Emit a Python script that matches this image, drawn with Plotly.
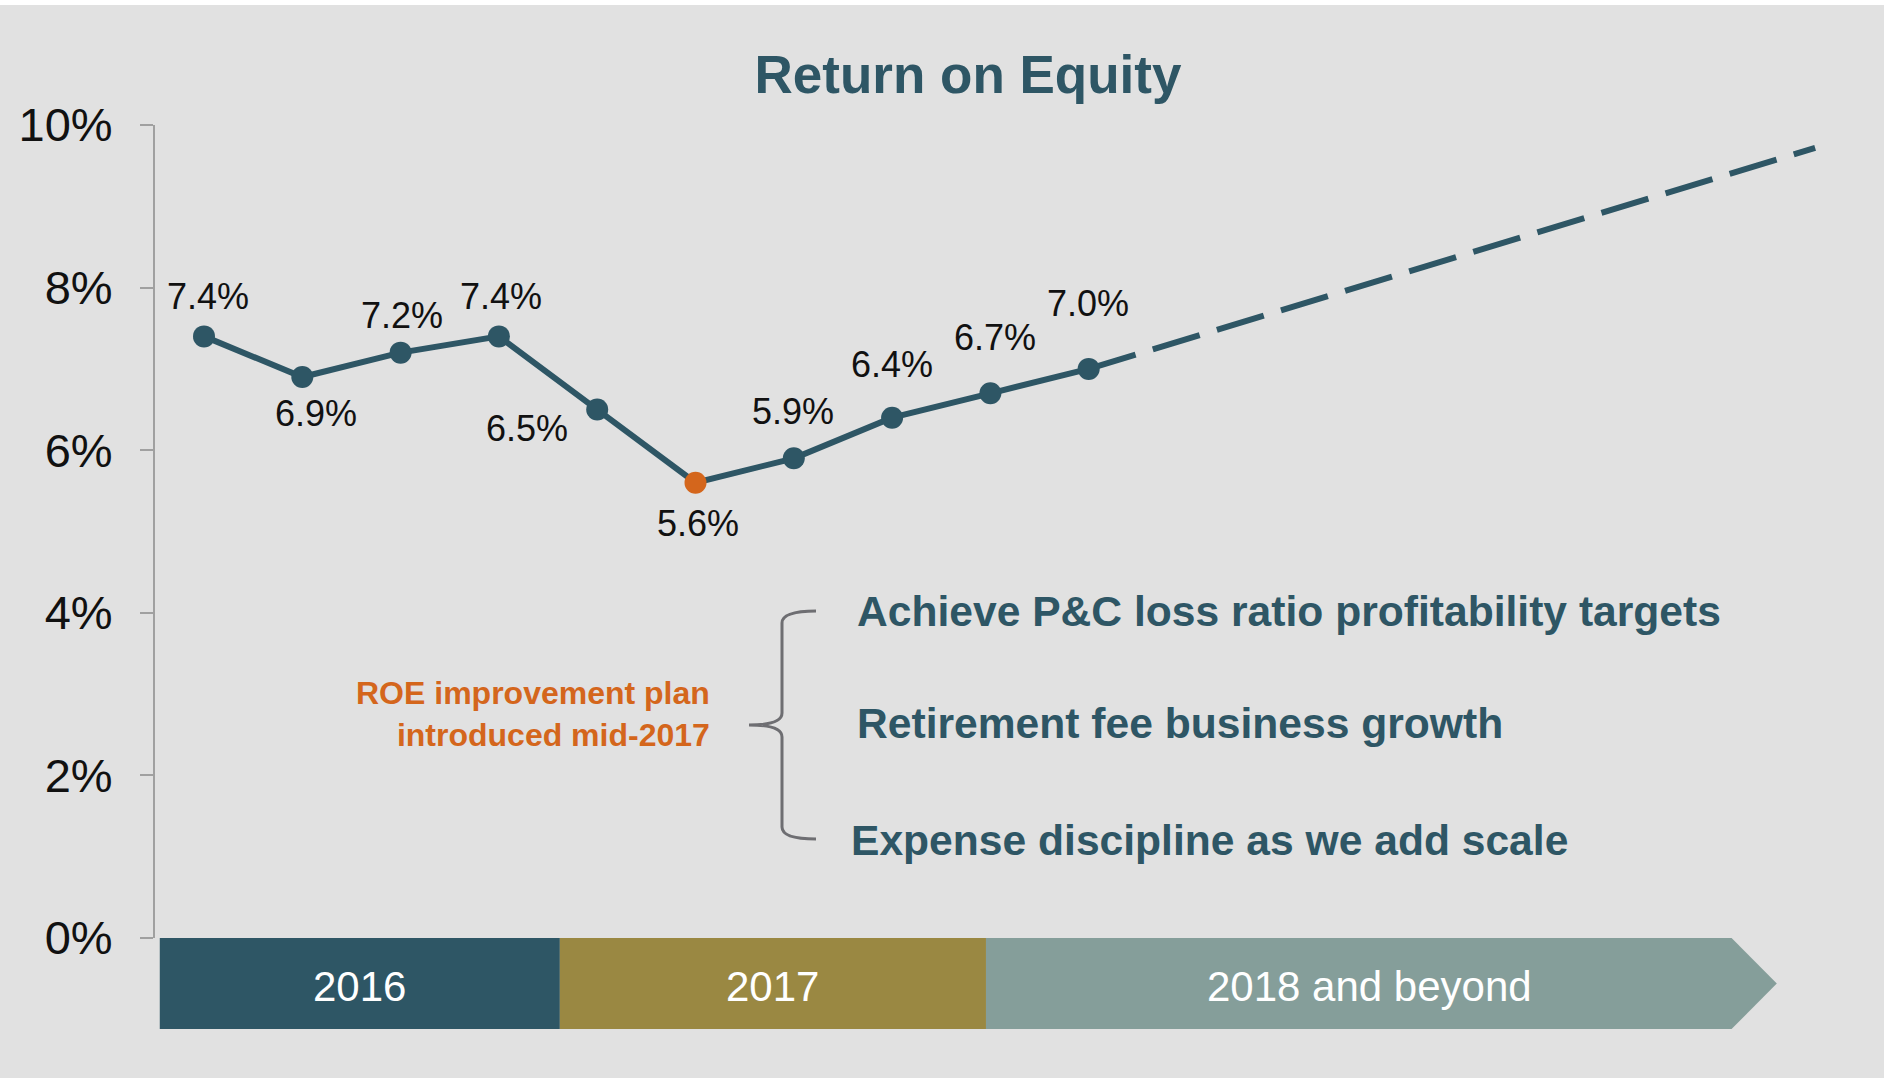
import plotly.graph_objects as go

# ---------------- data ----------------
quarter_index = [1, 2, 3, 4, 5, 6, 7, 8, 9, 10]
roe_values = [7.4, 6.9, 7.2, 7.4, 6.5, 5.6, 5.9, 6.4, 6.7, 7.0]
highlight_index = 5  # low point, mid-2017
projection_x = [10, 17.39]
projection_y = [7.0, 9.72]
y_ticks = [0, 2, 4, 6, 8, 10]
y_tick_labels = ["0%", "2%", "4%", "6%", "8%", "10%"]
period_labels = ["2016", "2017", "2018 and beyond"]
period_start = [0.55, 4.62, 8.955]
period_end = [4.62, 8.955, 16.54]
arrow_tip = 17.0
plan_title = "ROE improvement plan<br>introduced mid-2017"
plan_items = [
    "Achieve P&C loss ratio profitability targets",
    "Retirement fee business growth",
    "Expense discipline as we add scale",
]

# ---------------- styles ----------------
W, H = 1884, 1078
ML, MR, MT, MB = 154, 54, 100, 28
TEAL = "#2e5665"
GOLD = "#9a8842"
SAGE = "#859e9a"
ORANGE = "#d4661c"
BG = "#e1e1e1"
FONT = "Arial, Liberation Sans, sans-serif"

# pixel -> data helpers (for placing decorations)
def xd(px):
    return 1 + (px - 204) / 98.3

def yd(py):
    return (938 - py) / 81.3

label_offsets = [(4, 40), (14, -36), (1, 37), (2, 40), (-70, -19),
                 (2, -41), (-1, 47), (0, 53), (5, 56), (-1, 65)]

fig = go.Figure()

# projection (dashed)
fig.add_trace(go.Scatter(
    x=projection_x, y=projection_y, mode="lines",
    line=dict(color=TEAL, width=6, dash="49px,18px"),
    hoverinfo="skip", showlegend=False))

# actual ROE
marker_colors = [ORANGE if i == highlight_index else TEAL for i in range(len(roe_values))]
fig.add_trace(go.Scatter(
    x=quarter_index, y=roe_values, mode="lines+markers",
    line=dict(color=TEAL, width=6),
    marker=dict(size=22, color=marker_colors),
    showlegend=False))

# timeline bars
bar_top, bar_bottom = 0.0, -1.12
bar_colors = [TEAL, GOLD, SAGE]
for i, lab in enumerate(period_labels):
    x0, x1 = period_start[i], period_end[i]
    if i == len(period_labels) - 1:
        xs = [x0, x1, arrow_tip, x1, x0, x0]
        ys = [bar_top, bar_top, (bar_top + bar_bottom) / 2, bar_bottom, bar_bottom, bar_top]
    else:
        xs = [x0, x1, x1, x0, x0]
        ys = [bar_top, bar_top, bar_bottom, bar_bottom, bar_top]
    fig.add_trace(go.Scatter(
        x=xs, y=ys, mode="lines", fill="toself", fillcolor=bar_colors[i],
        line=dict(width=0, color=bar_colors[i]), hoverinfo="skip", showlegend=False))

annotations = []
# data labels
for i, (xv, yv) in enumerate(zip(quarter_index, roe_values)):
    dx, dy = label_offsets[i]
    annotations.append(dict(
        x=xv, y=yv, xref="x", yref="y", text=f"{yv:.1f}%", showarrow=False,
        xshift=dx, yshift=dy, font=dict(family=FONT, size=36, color="#111111"),
        xanchor="center", yanchor="middle"))

# period labels
period_shift = [0, 0, 11]
for i, lab in enumerate(period_labels):
    annotations.append(dict(
        x=(period_start[i] + period_end[i]) / 2, y=(bar_top + bar_bottom) / 2,
        xref="x", yref="y", text=lab, showarrow=False, xshift=period_shift[i], yshift=-3,
        font=dict(family=FONT, size=42, color="white"),
        xanchor="center", yanchor="middle"))

# plan title (orange)
annotations.append(dict(
    x=xd(712), y=yd(714), xref="x", yref="y", text=f"<b>{plan_title}</b>",
    showarrow=False, xanchor="right", yanchor="middle", align="right",
    font=dict(family=FONT, size=32, color=ORANGE)))

# plan items
item_pos = [(855, 611), (855, 723), (849, 840)]
for txt, (px, py) in zip(plan_items, item_pos):
    annotations.append(dict(
        x=xd(px), y=yd(py), xref="x", yref="y", text=f"<b>{txt}</b>",
        showarrow=False, xanchor="left", yanchor="middle",
        font=dict(family=FONT, size=42.6, color=TEAL)))

shapes = []
# y axis line
shapes.append(dict(type="line", xref="paper", yref="y", x0=0, x1=0, y0=0, y1=10,
                   line=dict(color="#a0a0a0", width=2)))
# brace
bx, tipx, endx = xd(782), xd(749), xd(816)
yt, ym, yb = yd(611), yd(725), yd(839)
r = 12 / 81.3
path = (f"M {endx},{yt} Q {bx},{yt} {bx},{yt - r} "
        f"L {bx},{ym + r} Q {bx},{ym} {tipx},{ym} "
        f"Q {bx},{ym} {bx},{ym - r} "
        f"L {bx},{yb + r} Q {bx},{yb} {endx},{yb}")
shapes.append(dict(type="path", xref="x", yref="y", path=path,
                   line=dict(color="#6e6e72", width=3)))
# white strip at top
shapes.append(dict(type="rect", xref="paper", yref="paper",
                   x0=-1, x1=2, y0=(H - MB - 5) / (H - MT - MB), y1=(H - MB + 5) / (H - MT - MB),
                   fillcolor="white", line=dict(width=0), layer="above"))

fig.update_layout(
    width=W, height=H,
    margin=dict(l=ML, r=MR, t=MT, b=MB),
    paper_bgcolor=BG, plot_bgcolor=BG,
    title=dict(text="<b>Return on Equity</b>", x=968 / W, y=1 - 74 / H,
               xref="container", yref="container", xanchor="center", yanchor="middle",
               font=dict(family=FONT, size=53, color=TEAL)),
    xaxis=dict(visible=False, range=[xd(ML), xd(W - MR)], fixedrange=True),
    yaxis=dict(range=[yd(H - MB), yd(MT)], tickmode="array", tickvals=y_ticks,
               ticktext=y_tick_labels,
               showgrid=False, zeroline=False, showline=False,
               ticks="outside", ticklen=13, tickwidth=2, tickcolor="#a0a0a0",
               ticklabelstandoff=18,
               tickfont=dict(family=FONT, size=47, color="#111111"), fixedrange=True),
    annotations=annotations,
    shapes=shapes,
    showlegend=False,
)

fig.write_html(
    "out.html",
    config={"displayModeBar": False},
    post_script="document.body.style.margin='0';document.body.style.padding='0';"
                "document.documentElement.style.overflow='hidden';",
)
